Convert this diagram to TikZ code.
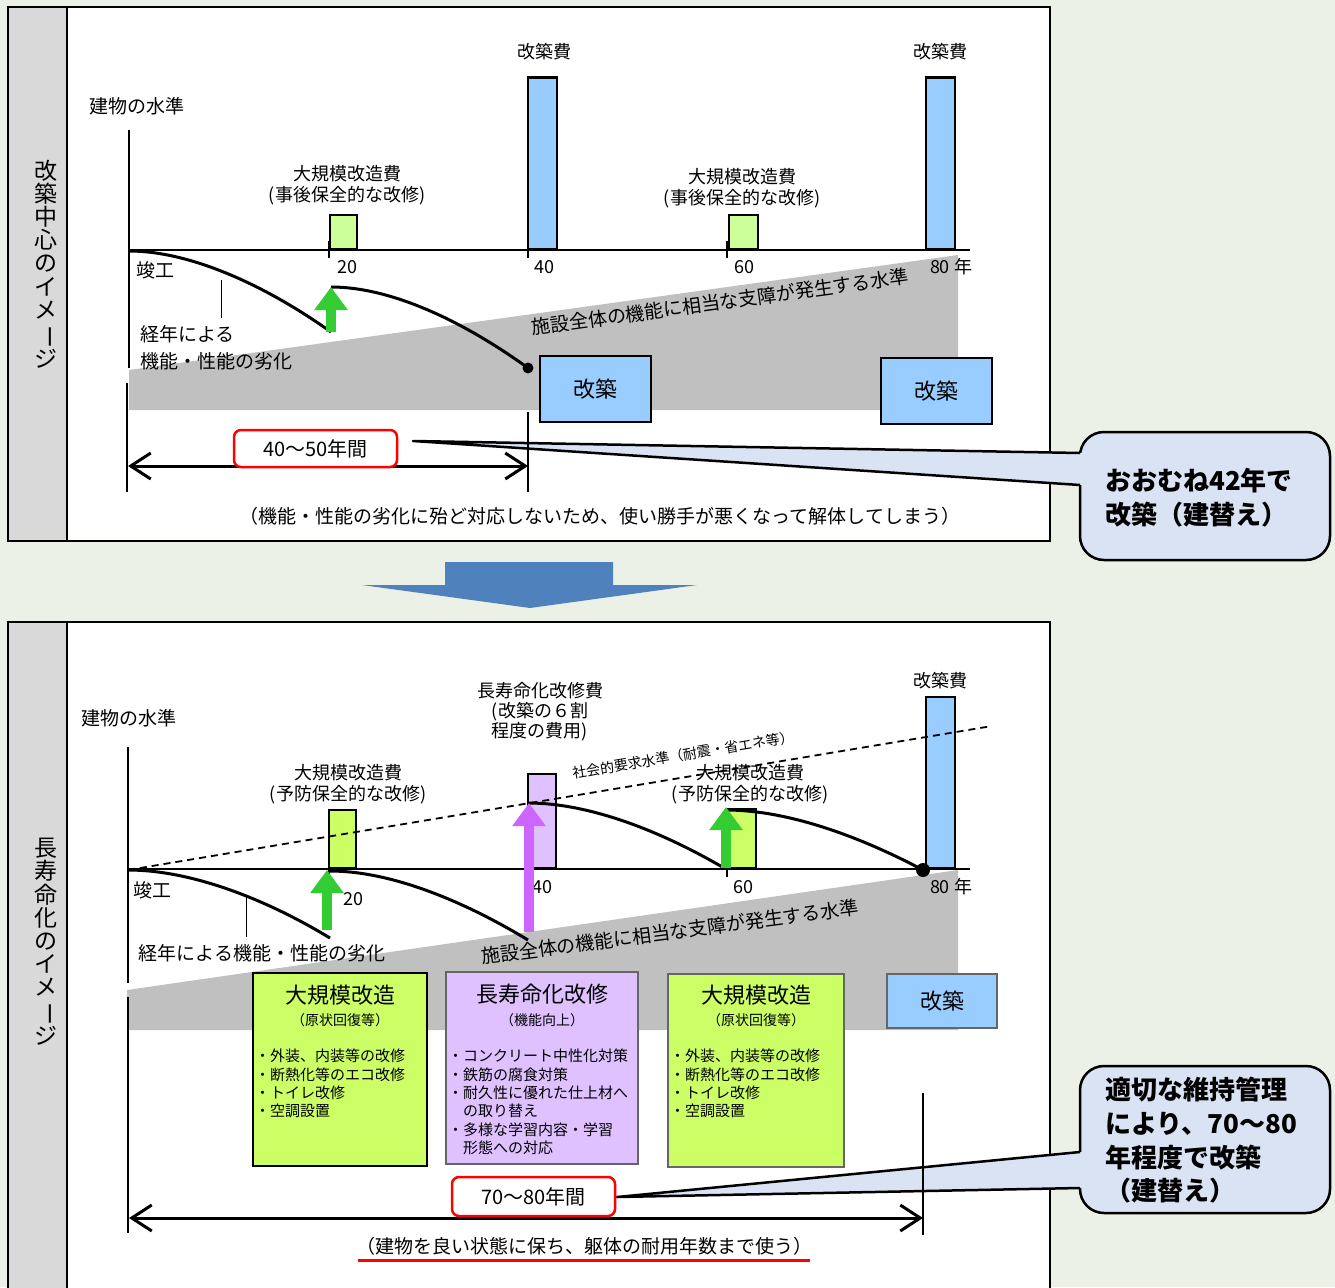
\documentclass[tikz,border=0pt]{standalone}
\usepackage{fontspec}
\setmainfont{Noto Sans CJK JP}
\usetikzlibrary{arrows.meta,calc}
\definecolor{bg}{RGB}{235,241,230}
\definecolor{stripgray}{RGB}{217,217,217}
\definecolor{bandgray}{RGB}{192,192,192}
\definecolor{barblue}{RGB}{153,204,255}
\definecolor{palegreen}{RGB}{204,255,153}
\definecolor{limegreen}{RGB}{204,255,102}
\definecolor{lavender}{RGB}{224,193,255}
\definecolor{arrowgreen}{RGB}{51,204,51}
\definecolor{arrowpurple}{RGB}{204,102,255}
\definecolor{calloutfill}{RGB}{218,227,243}
\definecolor{bigarrow}{RGB}{79,129,189}
\newcommand{\fsz}[2]{\fontsize{#1}{#2}\selectfont}
\newcommand{\vbar}{\rotatebox[origin=c]{-90}{ー}}
\begin{document}
\begin{tikzpicture}[x=1pt,y=-1pt,
  lbl/.style={inner sep=0pt, font=\fsz{18}{21}, align=center},
  biglbl/.style={inner sep=0pt, font=\fsz{19}{22}, align=center},
  bar/.style={draw=black, line width=2.5pt, anchor=south, inner sep=0pt},
  axisline/.style={line width=2pt},
  tick/.style={line width=1.5pt},
  thinline/.style={line width=1pt},
  bound/.style={line width=1.5pt},
  agecurve/.style={line width=3pt},
  uparrow/.style={line width=10pt, -{Triangle[length=23pt,width=32pt]}},
  dimarrow/.style={line width=3pt, {Straight Barb[length=20pt,width=26pt]}-{Straight Barb[length=20pt,width=26pt]}},
  redbox/.style={draw=red, line width=2.5pt, rounded corners=7pt, fill=white, inner sep=0pt, font=\fsz{20}{24}},
  callout/.style={draw=black, line width=2.5pt, fill=calloutfill, rounded corners=24pt, inner sep=0pt},
  pointer/.style={line width=2.5pt, line join=round},
  callouttxt/.style={inner sep=0pt, font=\bfseries\fsz{26}{33.7}, align=left, anchor=west},
  kaichiku/.style={draw=black, line width=2pt, fill=barblue, inner sep=0pt, font=\fsz{22}{26}},
  workbox/.style={line width=2pt, inner sep=0pt},
  boxtitle/.style={inner sep=0pt, font=\fsz{22}{26}},
  boxsub/.style={inner sep=0pt, font=\fsz{14}{17}},
  boxitems/.style={inner sep=0pt, font=\fsz{15}{18.3}, align=left, anchor=north west},
  vtext/.style={inner sep=0pt, font=\fsz{23}{23.2}, align=center},
  socline/.style={line width=1.8pt, dash pattern=on 7pt off 5pt},
  dot/.style={circle, fill=black, inner sep=0pt}
]
\useasboundingbox[fill=bg] (0,0) rectangle (1335,1287);

%================ TOP PANEL ================
\fill[white] (8,7) rectangle (1050,541);
\fill[stripgray] (8,7) rectangle (67,541);
\draw[line width=1.5pt] (67,7) -- (67,541);
\draw[line width=2.5pt] (8,7) rectangle (1050,541);
\node[vtext] (vA) at (46,264) {改\\築\\中\\心\\の\\イ\\メ\\\vbar\\ジ};

\fill[bandgray] (129,370) -- (958,255) -- (958,410) -- (129,410) -- cycle;

\node[lbl, font=\fsz{19}{22}] (yA) at (137,106) {建物の水準};
\draw[axisline] (129,130) -- (129,368);
\draw[axisline] (129,250) -- (970,250);
\foreach \x in {329,528,727} \draw[tick] (\x,241) -- (\x,258);

\node[bar, fill=palegreen, minimum width=27pt, minimum height=34pt] (gA1) at (343.5,250) {};
\node[bar, fill=barblue, minimum width=29pt, minimum height=171pt] (bA1) at (542.5,250) {};
\node[bar, fill=palegreen, minimum width=29pt, minimum height=34pt] (gA2) at (743.5,250) {};
\node[bar, fill=barblue, minimum width=29pt, minimum height=171pt] (bA2) at (940.5,250) {};

\node[lbl] (kcA1) at (544,52) {改築費};
\node[lbl] (kcA2) at (940,52) {改築費};
\node[lbl] (mcA1) at (347,185) {大規模改造費\\(事後保全的な改修)};
\node[lbl] (mcA2) at (742,188) {大規模改造費\\(事後保全的な改修)};

\node[lbl] (nA20) at (347,267) {20};
\node[lbl] (nA40) at (544,267) {40};
\node[lbl] (nA60) at (744,267) {60};
\node[lbl] (nA80) at (951,267) {80 年};
\node[lbl, font=\fsz{19}{22}] (sA) at (155,270) {竣工};
\coordinate (pA0) at (221,280); \coordinate (pA1) at (221,318);
\draw[thinline] (pA0) -- (pA1);
\node[biglbl, align=left, anchor=north west, font=\fsz{19}{27}] (degA) at (140,325) {経年による\\機能・性能の劣化};

\node[biglbl, rotate=7.8] (lvA) at (720,302) {施設全体の機能に相当な支障が発生する水準};

\coordinate (cA0) at (129,251);
\coordinate (cA1) at (331,332);
\coordinate (cA2) at (331,287);
\node[dot, minimum size=11pt] (dotA) at (528,368) {};
\draw[agecurve] (cA0) .. controls (190,251) and (265,285) .. (cA1);
\draw[agecurve] (cA2) .. controls (391,287) and (463,321) .. (dotA.center);
\draw[uparrow, arrowgreen] (cA1) -- (cA2);

\node[kaichiku, minimum width=111pt, minimum height=66pt] (kA1) at (595.5,389) {改築};
\node[kaichiku, minimum width=111pt, minimum height=66pt] (kA2) at (936.5,391) {改築};

\node[biglbl] (noteA) at (600,516) {（機能・性能の劣化に殆ど対応しないため、使い勝手が悪くなって解体してしまう）};

% callout A
\node[callout, minimum width=250pt, minimum height=128pt] (cA) at (1205,496) {};
\coordinate (tipA) at (413,441);
\coordinate (baA) at (1082,453); \coordinate (bbA) at (1082,485);
\coordinate (laA) at (1080,453); \coordinate (lbA) at (1080,485);
\fill[calloutfill] (tipA) -- (baA) -- (bbA) -- cycle;
\draw[pointer] (laA) -- (tipA) -- (lbA);
\node[callouttxt] (cAt) at (1105,498) {おおむね42年で\\改築（建替え）};

% dimension A
\coordinate (dA0t) at (127,383); \coordinate (dA0b) at (127,492);
\coordinate (dA1t) at (528,412); \coordinate (dA1b) at (528,492);
\draw[bound] (dA0t) -- (dA0b);
\draw[bound] (dA1t) -- (dA1b);
\coordinate (dAL) at (128,466); \coordinate (dAR) at (528,466);
\draw[dimarrow] (dAL) -- (dAR);
\node[redbox, minimum width=163pt, minimum height=37pt] (rA) at (315.5,448.5) {40～50年間};

%================ ARROW ================
\fill[bigarrow] (445,562) -- (613,562) -- (613,585) -- (697,585) -- (530,608) -- (362,585) -- (445,585) -- cycle;

%================ BOTTOM PANEL ================
\fill[white] (8,622) rectangle (1050,1290);
\fill[stripgray] (8,622) rectangle (67,1290);
\draw[line width=1.5pt] (67,622) -- (67,1290);
\draw[line width=2.5pt] (8,1290) -- (8,622) -- (1050,622) -- (1050,1290);
\node[vtext] (vB) at (46,942) {長\\寿\\命\\化\\の\\イ\\メ\\\vbar\\ジ};

\fill[bandgray] (127,990) -- (958,870) -- (958,1030) -- (127,1030) -- cycle;

\node[lbl, font=\fsz{19}{22}] (yB) at (129,718) {建物の水準};
\draw[axisline] (128,747) -- (128,983);
\draw[axisline] (128,869) -- (970,869);
\foreach \x in {329,528,727} \draw[tick] (\x,862) -- (\x,877);

\node[bar, fill=limegreen, minimum width=27pt, minimum height=58pt] (gB1) at (342.5,869) {};
\node[bar, fill=lavender, minimum width=28pt, minimum height=94pt] (pB) at (542,869) {};
\node[bar, fill=limegreen, minimum width=30pt, minimum height=59pt] (gB2) at (741,869) {};
\node[bar, fill=barblue, minimum width=29pt, minimum height=171pt] (bB) at (940.5,869) {};

\node[lbl] (kcB) at (940,681) {改築費};
\node[lbl, font=\fsz{18}{20}] (lcB) at (540,712) {長寿命化改修費\\(改築の６割\\程度の費用)};
\node[lbl] (mcB1) at (348,784) {大規模改造費\\(予防保全的な改修)};
\node[lbl] (mcB2) at (750,784) {大規模改造費\\(予防保全的な改修)};

\coordinate (sB0) at (128,870); \coordinate (sB1) at (992,726);
\draw[socline] (sB0) -- (sB1);
\node[lbl, font=\fsz{14}{16}, rotate=9.5] (socB) at (683,755) {社会的要求水準（耐震・省エネ等）};

\node[lbl] (nB20) at (353,899) {20};
\node[lbl] (nB40) at (542,887) {40};
\node[lbl] (nB60) at (743,887) {60};
\node[lbl] (nB80) at (951,887) {80 年};
\node[lbl, font=\fsz{19}{22}] (sB) at (152,890) {竣工};
\coordinate (pB0) at (246,895); \coordinate (pB1) at (246,937);
\draw[thinline] (pB0) -- (pB1);
\node[biglbl] (degB) at (262,953) {経年による機能・性能の劣化};

\node[biglbl, rotate=7.5] (lvB) at (670,932) {施設全体の機能に相当な支障が発生する水準};

\coordinate (cB0) at (128,870);
\coordinate (cB1) at (330,938);
\coordinate (cB2) at (330,871);
\coordinate (cB3) at (528,940);
\coordinate (cB4) at (528,803);
\coordinate (cB5) at (724,868);
\coordinate (cB6) at (726,810);
\node[dot, minimum size=14pt] (dotB) at (923,870) {};
\draw[agecurve] (cB0) .. controls (190,870) and (264,898) .. (cB1);
\draw[agecurve] (cB2) .. controls (390,871) and (462,900) .. (cB3);
\draw[agecurve] (cB4) .. controls (588,803) and (659,830) .. (cB5);
\draw[agecurve] (cB6) .. controls (786,810) and (857,835) .. (dotB.center);

\coordinate (aB1s) at (327,930); \coordinate (aB1e) at (327,870);
\coordinate (aB2s) at (529,932); \coordinate (aB2e) at (529,803);
\coordinate (aB3s) at (726,868); \coordinate (aB3e) at (726,807);
\draw[uparrow, arrowgreen] (aB1s) -- (aB1e);
\draw[uparrow, arrowpurple] (aB2s) -- (aB2e);
\draw[uparrow, arrowgreen] (aB3s) -- (aB3e);

% work boxes
\node[workbox, draw=black, fill=limegreen, minimum width=174pt, minimum height=193pt] (wB1) at (340,1069.5) {};
\node[boxtitle] (wB1t) at ($(wB1.north)+(0,23)$) {大規模改造};
\node[boxsub] (wB1s) at ($(wB1.north)+(0,48)$) {（原状回復等）};
\node[boxitems] (wB1i) at ($(wB1.north west)+(3,77)$) {・外装、内装等の改修\\・断熱化等のエコ改修\\・トイレ改修\\・空調設置};

\node[workbox, draw=black!60, fill=lavender, minimum width=192pt, minimum height=192pt] (wB2) at (542,1068) {};
\node[boxtitle] (wB2t) at ($(wB2.north)+(0,23)$) {長寿命化改修};
\node[boxsub] (wB2s) at ($(wB2.north)+(0,49)$) {（機能向上）};
\node[boxitems] (wB2i) at ($(wB2.north west)+(3,78)$) {・コンクリート中性化対策\\・鉄筋の腐食対策\\・耐久性に優れた仕上材へ\\\phantom{・}の取り替え\\・多様な学習内容・学習\\\phantom{・}形態への対応};

\node[workbox, draw=black!60, fill=limegreen, minimum width=176pt, minimum height=193pt] (wB3) at (756,1070.5) {};
\node[boxtitle] (wB3t) at ($(wB3.north)+(0,22)$) {大規模改造};
\node[boxsub] (wB3s) at ($(wB3.north)+(0,47)$) {（原状回復等）};
\node[boxitems] (wB3i) at ($(wB3.north west)+(3,76)$) {・外装、内装等の改修\\・断熱化等のエコ改修\\・トイレ改修\\・空調設置};

\node[kaichiku, draw=black!60, minimum width=110pt, minimum height=54pt] (kB) at (942,1001) {改築};

\node[biglbl] (noteB) at (584,1246) {（建物を良い状態に保ち、躯体の耐用年数まで使う）};
\draw[red, line width=3pt] ($(noteB.south west)+(2,5)$) -- ($(noteB.south east)+(-2,5)$);

% callout B
\node[callout, minimum width=250pt, minimum height=147pt] (cB) at (1205,1139.5) {};
\coordinate (tipB) at (617,1197);
\coordinate (baB) at (1082,1152); \coordinate (bbB) at (1082,1188);
\coordinate (laB) at (1080,1152); \coordinate (lbB) at (1080,1188);
\fill[calloutfill] (tipB) -- (baB) -- (bbB) -- cycle;
\draw[pointer] (laB) -- (tipB) -- (lbB);
\node[callouttxt] (cBt) at (1105,1140.5) {適切な維持管理\\により、70～80\\年程度で改築\\（建替え）};

% dimension B
\coordinate (dB0t) at (128,997); \coordinate (dB0b) at (128,1233);
\coordinate (dB1t) at (923,1093); \coordinate (dB1b) at (923,1235);
\draw[bound] (dB0t) -- (dB0b);
\draw[bound] (dB1t) -- (dB1b);
\coordinate (dBL) at (129,1218); \coordinate (dBR) at (923,1218);
\draw[dimarrow] (dBL) -- (dBR);
\node[redbox, minimum width=163pt, minimum height=39pt] (rB) at (533.5,1196.5) {70～80年間};
\end{tikzpicture}
\end{document}
